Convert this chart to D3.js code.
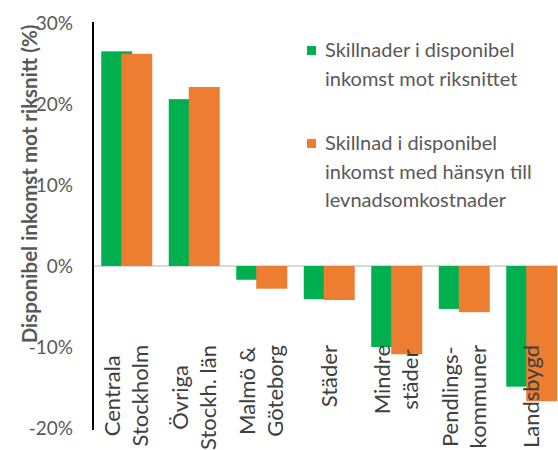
<html>
<head>
<meta charset="utf-8">
<script src="https://d3js.org/d3.v7.min.js"></script>
<style>
  body { margin: 0; background: white; }
  text { font-family: Lato, "Open Sans", sans-serif; }
</style>
</head>
<body>
<svg width="558" height="450"></svg>
<script>
  // data
  var categories = [["Centrala", "Stockholm"], ["Övriga", "Stockh. län"], ["Malmö &", "Göteborg"],
                    ["Städer"], ["Mindre", "städer"], ["Pendlings-", "kommuner"], ["Landsbygd"]];
  var seriesNames = ["Skillnader i disponibel|inkomst mot riksnittet",
                     "Skillnad i disponibel|inkomst med hänsyn till|levnadsomkostnader"];
  var incomeDiff = [26.5, 20.6, -1.7, -4.1, -10.0, -5.3, -14.9];
  var adjustedDiff = [26.2, 22.1, -2.8, -4.2, -10.9, -5.7, -16.7];
  var yTicks = [-20, -10, 0, 10, 20, 30];

  var green = "#00b050", orange = "#ed7d31";
  var svg = d3.select("svg");

  var ys = d3.scaleLinear().domain([-20, 30]).range([428, 23]);
  var xs = d3.scaleBand().domain(d3.range(categories.length)).range([93, 565.5]);
  var barW = 31;

  // zero line
  svg.append("line")
    .attr("x1", 93).attr("x2", 558)
    .attr("y1", ys(0)).attr("y2", ys(0))
    .attr("stroke", "#d9d9d9").attr("stroke-width", 2);

  // green bars, then orange on top (overlapping)
  var series = [{vals: incomeDiff, color: green, off: -25.5}, {vals: adjustedDiff, color: orange, off: -5.5}];
  series.forEach(function(s) {
    svg.append("g").selectAll("rect").data(s.vals).enter()
      .append("rect")
      .attr("x", (d, i) => xs(i) + xs.bandwidth() / 2 + s.off)
      .attr("y", d => ys(Math.max(0, d)))
      .attr("width", barW)
      .attr("height", d => Math.abs(ys(d) - ys(0)))
      .attr("fill", s.color);
  });

  // y axis line
  svg.append("line")
    .attr("x1", 93).attr("x2", 93)
    .attr("y1", 22).attr("y2", 430)
    .attr("stroke", "black").attr("stroke-width", 2);

  // tick labels
  svg.append("g").selectAll("text").data(yTicks).enter()
    .append("text")
    .attr("x", 73)
    .attr("y", d => ys(d))
    .attr("dy", "0.35em")
    .attr("text-anchor", "end")
    .attr("font-size", 19)
    .attr("fill", "#595959")
    .text(d => d + "%");

  // y title
  svg.append("text")
    .attr("transform", "translate(37,184) rotate(-90)")
    .attr("text-anchor", "middle")
    .attr("font-size", 20.5)
    .attr("font-weight", "bold")
    .attr("fill", "#595959")
    .text("Disponibel inkomst mot riksnitt (%)");

  // category labels, rotated, lines centred on each other, block top at y=345
  categories.forEach(function(lines, i) {
    var cx = xs(i) + xs.bandwidth() / 2;
    var g = svg.append("g");
    var texts = lines.map(function(t, j) {
      return g.append("text")
        .attr("font-size", 22)
        .attr("fill", "#404040")
        .attr("text-anchor", "middle")
        .attr("dy", "0.35em")
        .text(t);
    });
    var maxLen = d3.max(texts, t => t.node().getComputedTextLength());
    texts.forEach(function(t, j) {
      var lx = cx + (j - (lines.length - 1) / 2) * 28;
      t.attr("transform", "translate(" + lx + "," + (345 + maxLen / 2) + ") rotate(-90)");
    });
  });

  // legend
  var legendY = [50, 143];
  seriesNames.forEach(function(name, k) {
    svg.append("rect")
      .attr("x", 307).attr("y", legendY[k] - 4)
      .attr("width", 9).attr("height", 9)
      .attr("fill", k == 0 ? green : orange);
    name.split("|").forEach(function(line, j) {
      svg.append("text")
        .attr("x", 325)
        .attr("y", legendY[k] + j * 28.5)
        .attr("dy", "0.35em")
        .attr("font-size", 20)
        .attr("fill", "#595959")
        .text(line);
    });
  });
</script>
</body>
</html>
